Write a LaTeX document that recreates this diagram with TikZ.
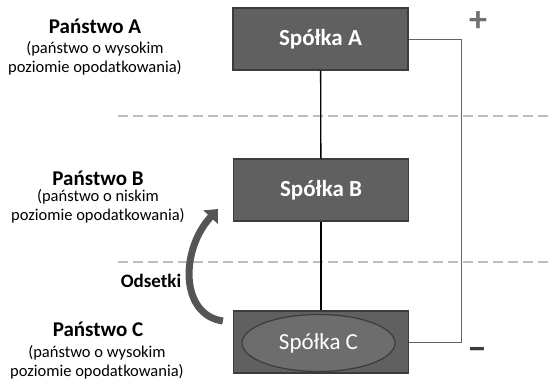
\documentclass[tikz,border=0pt]{standalone}
\usepackage{fontspec}
\setmainfont{Carlito}
\usetikzlibrary{arrows.meta,shapes.geometric}
\definecolor{boxgray}{HTML}{606060}
\definecolor{edgegray}{HTML}{3C3C3C}
\definecolor{sepgray}{HTML}{BEBEBE}
\definecolor{arrowgray}{HTML}{555555}
\begin{document}
\begin{tikzpicture}[x=1pt,y=-1pt,
firmblock/.style={draw=edgegray,fill=boxgray,rectangle,line width=1.2pt,minimum width=175pt,minimum height=62pt,inner sep=0pt,text=white,font=\fontsize{23}{25}\selectfont\bfseries},
firmoval/.style={draw=edgegray,fill=boxgray!92!white,ellipse,line width=1.2pt,minimum width=153pt,minimum height=57pt,inner sep=0pt,text=white,font=\fontsize{23}{25}\selectfont},
statehead/.style={font=\fontsize{21}{23}\selectfont\bfseries,inner sep=0pt},
statenote/.style={font=\fontsize{16.5}{19}\selectfont,align=center,inner sep=0pt},
separator/.style={sepgray,line width=2.2pt,dash pattern=on 10pt off 5pt}]
\useasboundingbox (0,0) rectangle (551,380);

\draw (320.5,39) node[firmblock] (A) {Spółka A};
\draw (321,190) node[firmblock] (B) {Spółka B};
\draw (321,342) node[firmblock] (C) {};
\draw (318.5,343) node[firmoval] (Cin) {Spółka C};

%\draw (321,116) node {granica};

\draw[separator] (118,116) -- (551,116);
\draw[separator] (118,262) -- (551,262);

\draw[line width=1.3pt] (A) -- (B);
\draw[line width=1.3pt] (B) -- (C);
\draw[edgegray!80,line width=0.8pt] (A.east) -- ++(53,0) |- (C.east);

\draw (478,22) node[text=boxgray!90!white,font=\fontsize{36}{36}\selectfont\bfseries] (plus) {+};
\draw (477,354) node[text=edgegray,font=\fontsize{36}{36}\selectfont\bfseries] (minus) {−};

\draw (95,26) node[statehead] (hA) {Państwo A};
\draw (95,58) node[statenote] (nA) {(państwo o wysokim\\poziomie opodatkowania)};
\draw (98,178) node[statehead] (hB) {Państwo B};
\draw (98,206) node[statenote] (nB) {(państwo o niskim\\poziomie opodatkowania)};
\draw (151,281) node[font=\fontsize{19}{21}\selectfont\bfseries,inner sep=0pt] (odsetki) {Odsetki};
\draw (98,329) node[statehead] (hC) {Państwo C};
\draw (97,362) node[statenote] (nC) {(państwo o wysokim\\poziomie opodatkowania)};

\draw[arrowgray,line width=7pt,-{Triangle[length=11pt,width=19pt]}]
  (C.west) ++(-10,-21) .. controls (180,315) and (180,250) .. (218,209);
\end{tikzpicture}
\end{document}
